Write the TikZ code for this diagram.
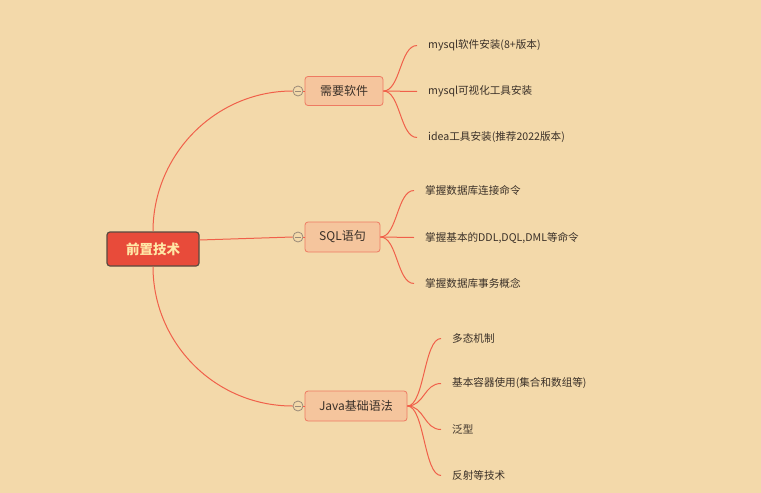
\documentclass[tikz,border=0pt]{standalone}
\usepackage{fontspec}
\setmainfont{Noto Sans CJK SC}
\definecolor{bg}{HTML}{F3D9AA}
\definecolor{rootfill}{HTML}{E84B3A}
\definecolor{rootline}{HTML}{5A4A40}
\definecolor{rootText}{HTML}{FFE7A6}
\definecolor{subfill}{HTML}{F5C59D}
\definecolor{subline}{HTML}{EE7A62}
\definecolor{conn}{HTML}{F0604A}
\definecolor{txt}{HTML}{3A3028}
\definecolor{knob}{HTML}{9A8A78}
\begin{document}
\begin{tikzpicture}[x=1pt,y=-1pt,
  rootbox/.style={draw=rootline,line width=1.2pt,fill=rootfill,rounded corners=3pt,
    minimum width=92pt,minimum height=34pt,inner sep=0pt,text=rootText,
    font=\fontsize{13.5}{14}\selectfont\bfseries},
  subbox/.style={draw=subline,line width=0.8pt,fill=subfill,rounded corners=3pt,
    minimum height=29pt,inner sep=0pt,text=txt,font=\fontsize{12}{13}\selectfont},
  knobc/.style={circle,draw=knob,line width=0.8pt,fill=bg,minimum size=10pt,inner sep=0pt,
    path picture={\draw[knob,line width=0.8pt] ([xshift=-3pt]path picture bounding box.center) -- ([xshift=3pt]path picture bounding box.center);}},
  leaf/.style={anchor=west,inner xsep=11pt,inner ysep=2pt,text=txt,font=\fontsize{10.6}{11}\selectfont},
  link/.style={draw=conn,line width=1pt},
]
\useasboundingbox[fill=bg] (0,0) rectangle (761,493);

\node[rootbox] (root) at (153,249) {前置技术};

\node[subbox,minimum width=78pt] (b1) at (344,91) {需要软件};
\node[subbox,minimum width=75pt,minimum height=30pt] (b2) at (342.5,237) {SQL语句};
\node[subbox,minimum width=102pt,minimum height=30pt] (b3) at (356,406) {Java基础语法};

\node[knobc] (k1) at (298,91) {};
\node[knobc] (k2) at (298,237) {};
\node[knobc] (k3) at (298,406) {};

% root connectors
\draw[link] (root.north) .. controls (153,155) and (215,91) .. (k1.west);
\draw[link] (root.east |- 0,240) -- (k2.west);
\draw[link] (root.south) .. controls (153,343) and (215,406) .. (k3.west);
\draw[link] (k1.east) -- (b1.west);
\draw[link] (k2.east) -- (b2.west);
\draw[link] (k3.east) -- (b3.west);

% leaves of b1
\node[leaf] (l11) at (417,45.5) {mysql软件安装(8+版本)};
\node[leaf] (l12) at (417,91.5) {mysql可视化工具安装};
\node[leaf] (l13) at (417,137.5) {idea工具安装(推荐2022版本)};
% leaves of b2
\node[leaf] (l21) at (414,190.5) {掌握数据库连接命令};
\node[leaf] (l22) at (414,237.5) {掌握基本的DDL,DQL,DML等命令};
\node[leaf] (l23) at (414,283.5) {掌握数据库事务概念};
% leaves of b3
\node[leaf] (l31) at (441,338.5) {多态机制};
\node[leaf] (l32) at (441,383.5) {基本容器使用(集合和数组等)};
\node[leaf] (l33) at (441,429.5) {泛型};
\node[leaf] (l34) at (441,475.5) {反射等技术};

\foreach \l in {l11,l12,l13}{
  \draw[link] (b1.east) .. controls ([xshift=17pt]b1.east) and ([xshift=-17pt]\l.west) .. (\l.west);
}
\foreach \l in {l21,l22,l23}{
  \draw[link] (b2.east) .. controls ([xshift=17pt]b2.east) and ([xshift=-17pt]\l.west) .. (\l.west);
}
\foreach \l in {l31,l32,l33,l34}{
  \draw[link] (b3.east) .. controls ([xshift=17pt]b3.east) and ([xshift=-17pt]\l.west) .. (\l.west);
}
\end{tikzpicture}
\end{document}
